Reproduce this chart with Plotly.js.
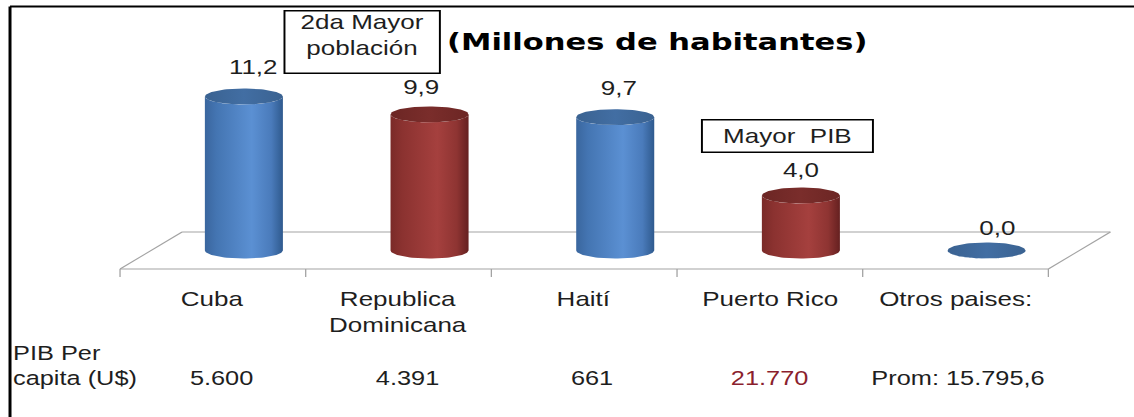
<!DOCTYPE html>
<html><head><meta charset="utf-8">
<script src="https://cdn.plot.ly/plotly-3.0.1.min.js"></script>
<style>
html,body{margin:0;padding:0;background:#fff;overflow:hidden;}
#chart{width:872px;height:417px;transform-origin:0 0;}
</style>
</head><body><div id="chart"></div>
<script>
// ---- data ----
const categories = ['Cuba', 'Republica<br>Dominicana', 'Haití', 'Puerto Rico', 'Otros paises:'];
const poblacion = [11.2, 9.9, 9.7, 4.0, 0.0];           // millones de habitantes
const pibPerCapita = [5600, 4391, 661, 21770, 15795.6];  // US$
const pibPrefix = ['', '', '', '', 'Prom: '];
const seriesColor = ['blue', 'red', 'blue', 'red', 'blue'];
const pibRowTitle = 'PIB Per<br>capita (U$)';
const chartTitle = '(Millones de habitantes)';
const noteTop = '2da Mayor<br>población';
const notePib = 'Mayor\u00a0 PIB';

// ---- geometry / styles ----
const W = 872, H = 417, STRETCH = 1134 / W;
const floorLeftPx = 92.3, catPx = 142.77;
const xr0 = -0.5 - floorLeftPx / catPx, xr1 = xr0 + W / catPx;
const basePx = 250.5, unitPx = 13.75;
const yr0 = -(H - basePx) / unitPx, yr1 = basePx / unitPx;
const depthX = 47.7 / catPx, depthY = 37 / unitPx;
const rx = 30 / catPx, ry = 8 / unitPx;
const labelDx = [7, -6, 3, 0, 8.5];
const labelDy = [29.5, 27, 29.5, 25.5, 23];
const pibDx = [7, 7.5, 6, 0, 1.5];
const pibColor = ['#1e1e1e', '#1e1e1e', '#1e1e1e', '#8b1f2e', '#1e1e1e'];
const FONT = 'Liberation Sans, Arial, sans-serif';
const TXT = '#1e1e1e';

const palettes = {
  blue: {
    body: [[0, '#3a669e'], [0.15, '#4475b2'], [0.6, '#5b90d3'], [0.85, '#4a7bbb'], [1, '#2f5a8e']],
    top: [[0, '#3a6291'], [0.5, '#426ea3'], [1, '#3a6291']]
  },
  red: {
    body: [[0, '#7a2a28'], [0.15, '#8b3230'], [0.6, '#a5403e'], [0.85, '#8e3432'], [1, '#652020']],
    top: [[0, '#6c2624'], [0.5, '#7a2d2b'], [1, '#6c2624']]
  }
};

function fmtEs(v) {
  const parts = String(v).split('.');
  const ip = parts[0].replace(/\B(?=(\d{3})+(?!\d))/g, '.');
  return parts[1] ? ip + ',' + parts[1] : ip;
}

const traces = [];
const N = 48;
poblacion.forEach((v, i) => {
  const cx = i + depthX / 2;
  const pal = palettes[seriesColor[i]];
  const bx = [cx - rx], by = [0];
  for (let j = 0; j <= N; j++) {
    const t = Math.PI + Math.PI * j / N;
    bx.push(cx + rx * Math.cos(t)); by.push(v + ry * Math.sin(t));
  }
  for (let j = 0; j <= N; j++) {
    const t = 2 * Math.PI - Math.PI * j / N;
    bx.push(cx + rx * Math.cos(t)); by.push(ry * Math.sin(t));
  }
  traces.push({
    type: 'scatter', mode: 'lines', x: bx, y: by, fill: 'toself',
    fillcolor: pal.body[2][1],
    fillgradient: {type: 'horizontal', colorscale: pal.body},
    line: {width: 0, color: 'rgba(0,0,0,0)'}, hoverinfo: 'skip', showlegend: false
  });
  const tx = [], ty = [];
  for (let j = 0; j <= 2 * N; j++) {
    const t = 2 * Math.PI * j / (2 * N);
    tx.push(cx + rx * Math.cos(t)); ty.push(v + ry * Math.sin(t));
  }
  traces.push({
    type: 'scatter', mode: 'lines', x: tx, y: ty, fill: 'toself',
    fillcolor: pal.top[1][1],
    fillgradient: {type: 'horizontal', colorscale: pal.top},
    line: {width: 0, color: 'rgba(0,0,0,0)'}, hoverinfo: 'skip', showlegend: false
  });
});

// floor (3D base)
const n = categories.length;
const grey = {color: '#a3a3a3', width: 1};
const fy = -depthY / 2, by2 = depthY / 2;
const shapes = [
  {type: 'line', xref: 'x', yref: 'y', x0: -0.5, x1: n - 0.5, y0: fy, y1: fy, line: grey, layer: 'below'},
  {type: 'line', xref: 'x', yref: 'y', x0: -0.5 + depthX, x1: n - 0.5 + depthX, y0: by2, y1: by2, line: grey, layer: 'below'},
  {type: 'line', xref: 'x', yref: 'y', x0: -0.5, x1: -0.5 + depthX, y0: fy, y1: by2, line: grey, layer: 'below'},
  {type: 'line', xref: 'x', yref: 'y', x0: n - 0.5, x1: n - 0.5 + depthX, y0: fy, y1: by2, line: grey, layer: 'below'}
];
for (let k = 0; k <= n; k++) {
  shapes.push({type: 'line', xref: 'x', yref: 'y', x0: k - 0.5, x1: k - 0.5, y0: fy, y1: fy - 8 / unitPx, line: grey, layer: 'below'});
}
// outer frame (top and left)
shapes.push({type: 'line', xref: 'paper', yref: 'paper', x0: 7.7 / W, x1: 7.7 / W, y0: 0, y1: (H - 6.5) / H, line: {color: '#000', width: 2.3}});
shapes.push({type: 'line', xref: 'paper', yref: 'paper', x0: 7.7 / W, x1: 1, y0: (H - 6.5) / H, y1: (H - 6.5) / H, line: {color: '#000', width: 2}});

const annotations = [];
poblacion.forEach((v, i) => {
  annotations.push({
    xref: 'x', yref: 'y', x: i + depthX / 2, y: v, xshift: labelDx[i], yshift: labelDy[i],
    text: v.toFixed(1).replace('.', ','), showarrow: false, xanchor: 'center', yanchor: 'middle',
    font: {family: FONT, size: 20, color: TXT}
  });
});
categories.forEach((c, i) => {
  annotations.push({
    xref: 'x', yref: 'paper', x: i, y: (H - 286) / H, text: c, showarrow: false,
    xanchor: 'center', yanchor: 'top', align: 'center',
    font: {family: FONT, size: 20, color: TXT}
  });
});
annotations.push({
  xref: 'paper', yref: 'paper', x: 7.6 / W, y: (H - 365.5) / H, text: pibRowTitle, showarrow: false,
  xanchor: 'left', yanchor: 'middle', align: 'left', font: {family: FONT, size: 19.5, color: TXT}
});
pibPerCapita.forEach((p, i) => {
  annotations.push({
    xref: 'x', yref: 'paper', x: i, xshift: pibDx[i], y: (H - 378) / H, text: pibPrefix[i] + fmtEs(p),
    showarrow: false, xanchor: 'center', yanchor: 'middle',
    font: {family: FONT, size: 19.5, color: pibColor[i]}
  });
});
annotations.push({
  xref: 'paper', yref: 'paper', x: 278.5 / W, y: (H - 41.5) / H, text: noteTop, showarrow: false,
  xanchor: 'center', yanchor: 'middle', align: 'center', valign: 'top',
  width: 118, height: 61, borderpad: 0, bordercolor: '#000', borderwidth: 1.5, bgcolor: '#fff',
  font: {family: FONT, size: 20, color: TXT}
});
annotations.push({
  xref: 'paper', yref: 'paper', x: 605.8 / W, y: (H - 136.5) / H, text: notePib, showarrow: false,
  xanchor: 'center', yanchor: 'middle', align: 'center', valign: 'middle',
  width: 130, height: 31, borderpad: 0, bordercolor: '#000', borderwidth: 1.5, bgcolor: '#fff',
  font: {family: FONT, size: 20, color: TXT}
});

const layout = {
  width: W, height: H,
  margin: {l: 0, r: 0, t: 0, b: 0, pad: 0},
  paper_bgcolor: '#fff', plot_bgcolor: '#fff',
  showlegend: false,
  title: {
    text: '<b>' + chartTitle + '</b>', xref: 'paper', yref: 'paper',
    x: 505.4 / W, xanchor: 'center', y: (H - 42) / H, yanchor: 'middle',
    font: {family: 'DejaVu Sans, sans-serif', size: 23.5, color: '#000'}
  },
  xaxis: {range: [xr0, xr1], visible: false, fixedrange: true},
  yaxis: {range: [yr0, yr1], visible: false, fixedrange: true},
  shapes: shapes,
  annotations: annotations
};

Plotly.newPlot('chart', traces, layout, {displayModeBar: false, staticPlot: true}).then(() => {
  document.getElementById('chart').style.transform = 'scaleX(' + STRETCH + ')';
});
</script>
</body></html>
